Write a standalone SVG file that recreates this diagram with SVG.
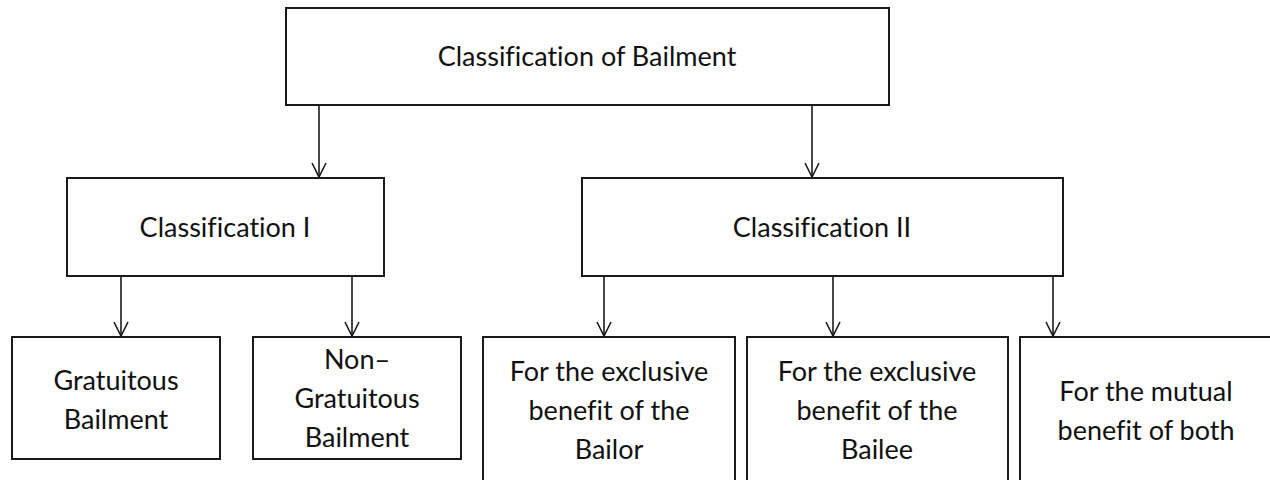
<svg xmlns="http://www.w3.org/2000/svg" width="1270" height="480" viewBox="0 0 1270 480">
  <defs>
    <style>
      .box { fill: #ffffff; stroke: #1a1a1a; stroke-width: 2; }
      .label { font-family: "Lato", "Liberation Sans", sans-serif; font-size: 27px; fill: #111111; text-anchor: middle; font-variant-ligatures: none; }
      .link { stroke: #1a1a1a; stroke-width: 1.6; fill: none; }
    </style>
    <!-- open V arrowhead, drawn pointing along +x so orient="auto" follows the line -->
    <marker id="arrow" markerWidth="16" markerHeight="16" refX="15" refY="8" orient="auto" markerUnits="userSpaceOnUse" viewBox="0 0 16 16">
      <path d="M1,1 L15,8 L1,15" fill="none" stroke="#1a1a1a" stroke-width="1.6"/>
    </marker>
  </defs>
  <rect width="1270" height="480" fill="#ffffff"/>

  <g id="connectors">
    <line class="link" x1="319" y1="105" x2="319" y2="177" marker-end="url(#arrow)"/>
    <line class="link" x1="812" y1="105" x2="812" y2="177" marker-end="url(#arrow)"/>
    <line class="link" x1="121" y1="276" x2="121" y2="336" marker-end="url(#arrow)"/>
    <line class="link" x1="352" y1="276" x2="352" y2="336" marker-end="url(#arrow)"/>
    <line class="link" x1="604" y1="276" x2="604" y2="336" marker-end="url(#arrow)"/>
    <line class="link" x1="833" y1="276" x2="833" y2="336" marker-end="url(#arrow)"/>
    <line class="link" x1="1053" y1="276" x2="1053" y2="336" marker-end="url(#arrow)"/>
  </g>

  <g id="root">
    <rect class="box" x="286" y="8" width="603" height="97"/>
    <text class="label" x="587" y="66">Classification of Bailment</text>
  </g>

  <g id="class-1">
    <rect class="box" x="67" y="178" width="317" height="98"/>
    <text class="label" x="225" y="237">Classification I</text>
  </g>

  <g id="class-2">
    <rect class="box" x="582" y="178" width="481" height="98"/>
    <text class="label" x="822" y="237">Classification II</text>
  </g>

  <g id="gratuitous">
    <rect class="box" x="12" y="337" width="208" height="122"/>
    <text class="label" x="116" y="390">Gratuitous</text>
    <text class="label" x="116" y="429">Bailment</text>
  </g>

  <g id="non-gratuitous">
    <rect class="box" x="253" y="337" width="208" height="122"/>
    <text class="label" x="357" y="369">Non–</text>
    <text class="label" x="357" y="408">Gratuitous</text>
    <text class="label" x="357" y="447">Bailment</text>
  </g>

  <g id="bailor">
    <rect class="box" x="483" y="337" width="252" height="160"/>
    <text class="label" x="609" y="381">For the exclusive</text>
    <text class="label" x="609" y="420">benefit of the</text>
    <text class="label" x="609" y="459">Bailor</text>
  </g>

  <g id="bailee">
    <rect class="box" x="747" y="337" width="261" height="160"/>
    <text class="label" x="877" y="381">For the exclusive</text>
    <text class="label" x="877" y="420">benefit of the</text>
    <text class="label" x="877" y="459">Bailee</text>
  </g>

  <g id="mutual">
    <rect class="box" x="1020" y="337" width="260" height="160"/>
    <text class="label" x="1146" y="401">For the mutual</text>
    <text class="label" x="1146" y="440">benefit of both</text>
  </g>
</svg>
